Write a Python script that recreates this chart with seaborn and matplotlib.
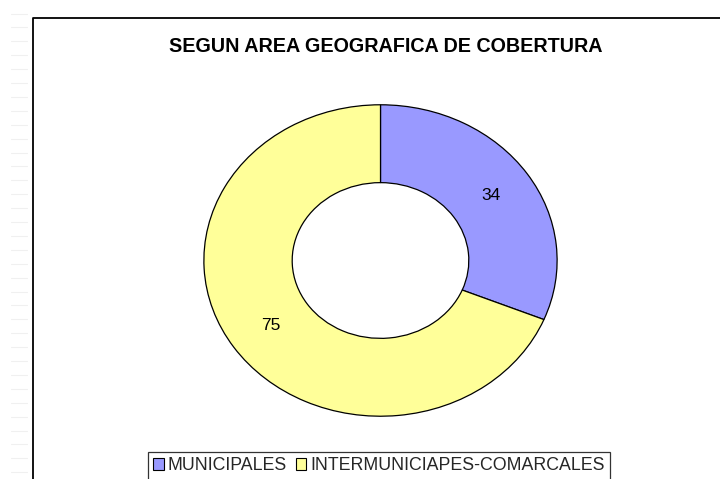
import matplotlib
matplotlib.use("Agg")
import matplotlib.pyplot as plt
from matplotlib.lines import Line2D
import seaborn as sns

# data
categories = ["MUNICIPALES", "INTERMUNICIAPES-COMARCALES"]
values = [34, 75]
colors = ["#9999FF", "#FFFF99"]
title = "SEGUN AREA GEOGRAFICA DE COBERTURA"

sns.set_theme(style="white")
plt.rcParams["font.family"] = ["Liberation Sans", "DejaVu Sans"]

W, H = 720, 479
fig = plt.figure(figsize=(W / 100, H / 100), dpi=100)
fig.patch.set_facecolor("white")

def px(x0, y0, x1, y1):
    # pixel box (from top-left) -> figure fraction
    return [x0 / W, 1 - y1 / H, (x1 - x0) / W, (y1 - y0) / H]

# faint background dashes at the far left
for i in range(34):
    y = 1 - (13.5 + i * 13.9) / H
    fig.add_artist(Line2D([11 / W, 27 / W], [y, y], color="#f0f0f0", lw=0.8))

# chart frame (left and top edges)
fig.add_artist(Line2D([33 / W, 33 / W, 1.0], [0.0, 1 - 18 / H, 1 - 18 / H],
                      color="black", lw=1.3))

ax = fig.add_axes(px(203, 104, 558, 417))
total = sum(values)
wedges, texts, autotexts = ax.pie(
    values,
    colors=colors,
    startangle=90,
    counterclock=False,
    radius=1,
    wedgeprops=dict(width=0.5, edgecolor="black", linewidth=0.9),
    autopct=lambda p: f"{p * total / 100:.0f}",
    pctdistance=0.75,
    textprops=dict(fontsize=12.5, color="black"),
)
ax.set_aspect("auto")
ax.set_xlim(-1.005, 1.005)
ax.set_ylim(-1.005, 1.005)
ax.axis("off")

fig.text(386 / W, 1 - 47 / H, title, ha="center", va="center",
         fontsize=14.2, fontweight="bold", color="black")

leg = fig.legend(
    wedges, categories,
    loc="upper left",
    bbox_to_anchor=(148 / W, 1 - 452 / H),
    ncol=2,
    frameon=True,
    fancybox=False,
    edgecolor="black",
    fontsize=12.8,
    handlelength=0.6,
    handleheight=0.6,
    handletextpad=0.2,
    columnspacing=0.5,
    borderpad=0.3,
    borderaxespad=0,
)
leg.get_frame().set_linewidth(0.9)
for h in leg.legend_handles:
    h.set_edgecolor("black")
    h.set_linewidth(0.8)

fig.savefig("out.png", dpi=100, facecolor="white")
